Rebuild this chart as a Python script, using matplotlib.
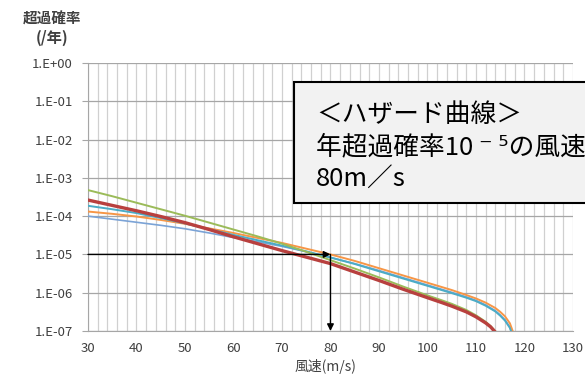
import math
import matplotlib
matplotlib.use("Agg")
import matplotlib.pyplot as plt
import numpy as np
from matplotlib.patches import Rectangle
from matplotlib.ticker import FixedLocator, FuncFormatter, MultipleLocator

plt.rcParams['font.family'] = ['Noto Sans CJK JP', 'DejaVu Sans']

# 風速 (m/s) と年超過確率 (log10 で読み取った値)
speed_a = [30, 35, 40, 45, 50, 55, 60, 65, 70, 75, 80, 85, 90, 95, 100, 105,
           108, 110, 112, 114, 115, 116, 117, 118]
orange_log = [-3.88, -3.94, -4.01, -4.10, -4.20, -4.32, -4.44, -4.57, -4.70, -4.85,
              -5.00, -5.17, -5.36, -5.55, -5.74, -5.93, -6.06, -6.15, -6.26, -6.40,
              -6.50, -6.62, -6.80, -7.15]
speed_c = [30, 35, 40, 45, 50, 55, 60, 65, 70, 75, 80, 85, 90, 95, 100, 105,
           108, 110, 112, 114, 115, 116, 117, 117.5]
teal_log = [-3.73, -3.82, -3.92, -4.05, -4.19, -4.34, -4.49, -4.63, -4.77, -4.92,
            -5.08, -5.25, -5.44, -5.63, -5.82, -6.01, -6.13, -6.22, -6.34, -6.49,
            -6.60, -6.73, -6.92, -7.10]
blue_log = [-4.00, -4.08, -4.16, -4.24, -4.33, -4.44, -4.56, -4.67, -4.79, -4.93,
            -5.08, -5.24, -5.42, -5.61, -5.80, -5.99, -6.11, -6.20, -6.32, -6.47,
            -6.58, -6.71, -6.90, -7.10]
speed_b = [30, 35, 40, 45, 50, 55, 60, 65, 70, 75, 80, 85, 90, 95, 100,
           103, 105, 108, 110, 112, 113, 114, 114.5]
green_log = [-3.32, -3.48, -3.65, -3.82, -3.99, -4.17, -4.35, -4.53, -4.72, -4.93,
             -5.15, -5.37, -5.60, -5.84, -6.07, -6.20, -6.29, -6.45, -6.59, -6.76,
             -6.87, -7.01, -7.10]
red_log = [-3.58, -3.72, -3.86, -4.01, -4.17, -4.35, -4.54, -4.72, -4.90, -5.07,
           -5.24, -5.46, -5.68, -5.91, -6.13, -6.26, -6.35, -6.50, -6.63, -6.79,
           -6.89, -7.03, -7.10]

yticks = [1e0, 1e-1, 1e-2, 1e-3, 1e-4, 1e-5, 1e-6, 1e-7]
xticks = [30, 40, 50, 60, 70, 80, 90, 100, 110, 120, 130]

fig = plt.figure(figsize=(5.85, 3.74), dpi=100)
ax = fig.add_axes([0.1504, 0.115, 0.829, 0.7166])

ax.plot(speed_c, np.power(10.0, blue_log), color="#7ba3d6", lw=1.2, zorder=3)
ax.plot(speed_a, np.power(10.0, orange_log), color="#f79646", lw=1.4, zorder=3)
ax.plot(speed_c, np.power(10.0, teal_log), color="#4bacc6", lw=1.4, zorder=4)
ax.plot(speed_b, np.power(10.0, green_log), color="#9bbb59", lw=1.4, zorder=4)
ax.plot(speed_b, np.power(10.0, red_log), color="#b8403e", lw=2.4, zorder=5)

ax.set_yscale("log")
ax.set_xlim(30, 130)
ax.set_ylim(1e-7, 1e0)
ax.yaxis.set_major_locator(FixedLocator(yticks))
ax.yaxis.set_minor_locator(FixedLocator([]))
ax.yaxis.set_major_formatter(FuncFormatter(lambda v, p: "1.E%+03d" % round(math.log10(v))))
ax.xaxis.set_major_locator(FixedLocator(xticks))
ax.xaxis.set_minor_locator(MultipleLocator(2))

ax.grid(True, axis="y", which="major", color="#a6a6a6", lw=0.9)
ax.grid(True, axis="x", which="both", color="#d0d0d0", lw=0.9)
ax.set_axisbelow(True)
for s in ["top", "right"]:
    ax.spines[s].set_visible(False)
ax.spines["left"].set_color("#a6a6a6")
ax.spines["bottom"].set_color("#a6a6a6")
ax.tick_params(axis="y", which="major", length=4, color="#a6a6a6", labelsize=9.5,
               labelcolor="#404040", pad=7)
ax.tick_params(axis="x", which="both", length=0, labelsize=9.5, labelcolor="#404040", pad=8)

# 1E-5 -> 80m/s の矢印
ax.annotate("", xy=(80, 1e-5), xytext=(30, 1e-5),
            arrowprops=dict(arrowstyle="-|>", color="black", lw=1.0, mutation_scale=10,
                            shrinkA=0, shrinkB=0), zorder=6)
ax.annotate("", xy=(80, 1e-7), xytext=(80, 1e-5),
            arrowprops=dict(arrowstyle="-|>", color="black", lw=1.0, mutation_scale=10,
                            shrinkA=0, shrinkB=0), zorder=6)

fig.text(52 / 585, 1 - 19 / 374, "超過確率", fontsize=10.5, fontweight="bold",
         color="#404040", ha="center", va="center")
fig.text(52 / 585, 1 - 38 / 374, "(/年)", fontsize=11, fontweight="bold",
         color="#404040", ha="center", va="center")
fig.text(325 / 585, 1 - 367 / 374, "風速(m/s)", fontsize=10, color="#404040",
         ha="center", va="center")

# 注記ボックス
fig.patches.append(Rectangle((294 / 585, 1 - 203 / 374), 0.6, 121 / 374,
                             transform=fig.transFigure, facecolor="#f2f2f2",
                             edgecolor="black", lw=1.5, zorder=10))
fig.text(316 / 585, 1 - 115 / 374, "＜ハザード曲線＞", fontsize=18.5, va="center", zorder=11)
fig.text(316 / 585, 1 - 147 / 374, "年超過確率10 ⁻ ⁵の風速", fontsize=18.5, va="center", zorder=11)
fig.text(316 / 585, 1 - 179 / 374, "80m／s", fontsize=18.5, va="center", zorder=11)

fig.savefig("out.png", dpi=100)
